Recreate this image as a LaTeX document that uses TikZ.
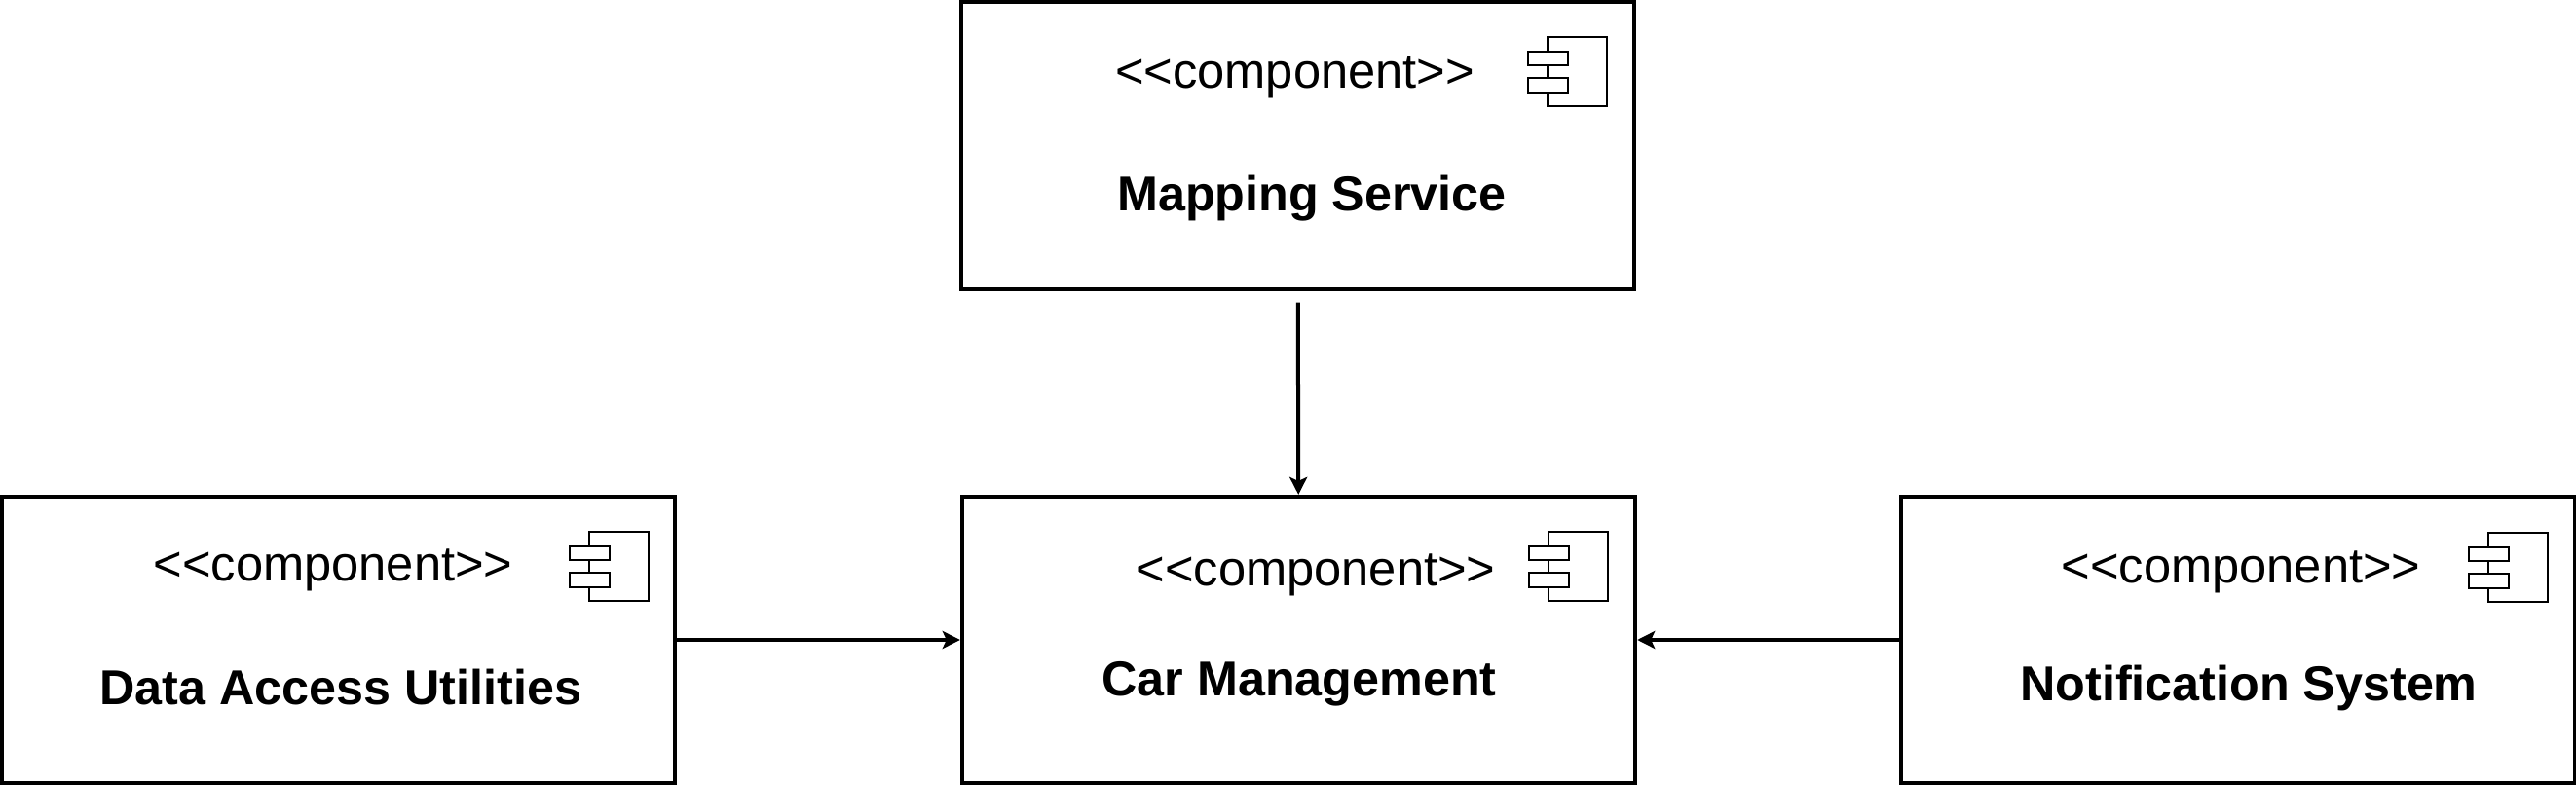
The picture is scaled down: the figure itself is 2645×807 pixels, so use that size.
\documentclass[tikz,border=0pt]{standalone}
\usepackage{fontspec}
\setmainfont{Liberation Sans}
\usetikzlibrary{arrows.meta}

\begin{document}
\begin{tikzpicture}[x=0.01cm,y=-0.01cm,
        comp/.style = {rectangle,draw,line width=0.04cm,
        minimum width=6.91cm,
        minimum height=2.94cm},
        stereo/.style = {anchor=base,font=\fontsize{14.4}{17}\selectfont},
        title/.style = {anchor=base,font=\fontsize{14.3}{17}\selectfont\bfseries},
        link/.style = {line width=0.04cm,-{Stealth[length=0.18cm,width=0.18cm,inset=0.04cm]}},
        compicon/.pic = {
            \draw[line width=0.017cm] (20,0) rectangle (81,71);
            \draw[line width=0.017cm,fill=white] (0,15) rectangle (41,29);
            \draw[line width=0.017cm,fill=white] (0,42) rectangle (41,57);
        }]

        \useasboundingbox (0,0) rectangle (2645,807);

        % Mapping Service
        \node [comp] (mapping) at (1332.5,149.5){};
        \node [stereo] (mappingtype) at (1329.5,91) {<{}<component>{}>};
        \node [title] (mappingname) at (1347,217) {Mapping Service};
        \pic at (1569,38) {compicon};

        % Data Access Utilities
        \node [comp] (data) at (347.5,657){};
        \node [stereo] (datatype) at (342,597) {<{}<component>{}>};
        \node [title] (dataname) at (350,724) {Data Access Utilities};
        \pic at (585,546) {compicon};

        % Car Management
        \node [comp] (car) at (1333.5,657){};
        \node [stereo] (cartype) at (1351,602) {<{}<component>{}>};
        \node [title] (carname) at (1334,715) {Car Management};
        \pic at (1570,546) {compicon};

        % Notification System
        \node [comp] (notify) at (2298,657){};
        \node [stereo] (notifytype) at (2301,599) {<{}<component>{}>};
        \node [title] (notifyname) at (2309,720) {Notification System};
        \pic at (2535,547) {compicon};

        % Dependencies
        \draw [link,shorten <=0.12cm] (mapping) -- (car);
        \draw [link] (data) -- (car);
        \draw [link] (notify) -- (car);

    \end{tikzpicture}
\end{document}
